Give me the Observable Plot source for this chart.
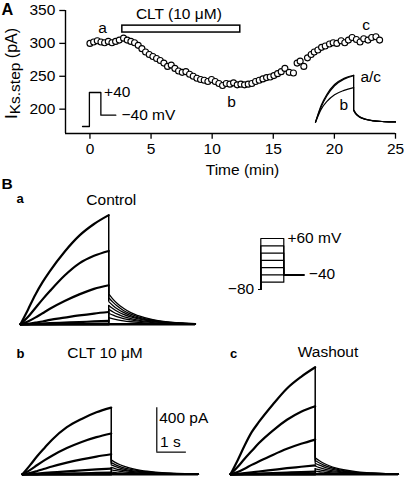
<!DOCTYPE html>
<html><head><meta charset="utf-8">
<script src="https://cdn.jsdelivr.net/npm/d3@7"></script>
<script src="https://cdn.jsdelivr.net/npm/@observablehq/plot@0.6"></script>
<style>
body{margin:0;background:#fff;}
#fig{position:relative;width:406px;height:480px;overflow:hidden;background:#fff;font-family:"Liberation Sans",Arial,sans-serif;}
#fig svg{position:absolute;}
</style></head><body><div id="fig"></div>
<script>
// ---------- Panel A data ----------
const timeMin = [0,0.3,0.6,0.9,1.2,1.5,1.8,2.1,2.4,2.75,3.05,3.35,3.65,3.95,4.25,4.55,4.85,5.15,5.45,5.75,6.05,6.35,6.65,6.95,7.25,7.55,7.85,8.15,8.45,8.75,9.05,9.35,9.65,9.95,10.25,10.55,10.85,11.15,11.45,11.75,12.05,12.35,12.65,12.95,13.25,13.55,13.85,14.15,14.45,14.75,15.05,15.35,15.65,15.95,16.3,16.65,16.95,17.2,17.5,17.8,18.1,18.35,18.65,18.95,19.25,19.6,19.9,20.2,20.55,20.85,21.15,21.45,21.8,22.1,22.4,22.75,23.05,23.4,23.7];
const iksStep = [300,302,304,302,301,303,301,303,305,308,305,303,301,297,292,287,283,280,277,274,270,265,267,262,258,256,257,253,250,247,245,244,242,245,242,239,236,239,238,240,237,238,237,238,239,242,244,246,248,249,251,254,257,262,256,255,270,273,265,278,283,287,290,294,296,299,301,300,304,301,305,309,306,302,307,305,309,310,305];
const timeTicks = [0,5,10,15,20,25];
const currentTicks = [200,250,300,350];
const timeDomain = [-2,25];
const currentDomain = [163,350];
const cltPeriod = {start: 2.65, end: 12.3, label: "CLT (10 μM)"};
const pointLabels = [
  {t: 1.03, v: 322.6, text: "a"},
  {t: 11.58, v: 210.6, text: "b"},
  {t: 22.6, v: 327.2, text: "c"}
];
// protocol inset (A)
const protoA_t = [-0.6, 0, 0, 1, 1, 2.3];
const protoA_mV = [-80, -80, 40, 40, -40, -40];
// inset current traces (A)
const insetStepT = [0, 0.15, 0.3, 0.5, 0.75, 1.0];
const insetTailT = [1.0, 1.05, 1.15, 1.3, 1.5, 1.8, 2.1];
const insetStep = {a: [0,110,182,245,285,305], b: [0,85,135,178,207,225], c: [0,100,172,237,280,302]};
const insetTail = {a: [80,58,36,20,10,4,2], b: [76,55,34,19,9,4,2], c: [82,60,37,21,10,4,2]};

// ---------- Panel B data ----------
const stepMV = [60,40,20,0,-20,-40,-60];
const holdMV = -80, tailMV = -40;
const stepT = [0,0.25,0.5,0.75,1,1.5,2,2.5,3];
const tailT = [3,3.15,3.3,3.5,3.75,4,4.5,5,5.5,5.95];
const controlStep = [
  [0,130,265,380,480,655,800,905,985],
  [0,65,145,225,300,440,550,618,662],
  [0,25,60,100,140,210,270,320,352],
  [0,5,15,25,40,60,80,97,111],
  [0,2,4,7,10,15,20,26,30],
  [0,0,1,1,2,3,4,5,6],
  [0,-2,-2,-2,-2,-2,-2,-2,-2]
];
const controlTail = [
  [275,225,185,145,105,78,42,22,12,6],
  [240,198,162,125,92,68,37,20,10,5],
  [205,168,138,107,79,58,32,17,9,4],
  [170,140,115,89,66,48,26,14,7,3],
  [135,111,91,70,52,38,21,11,6,3],
  [100,82,67,52,39,28,15,8,4,2],
  [60,49,40,31,23,17,9,5,3,1]
];
const cltStep = [
  [0,80,165,240,312,425,500,560,602],
  [0,38,84,128,168,237,292,335,368],
  [0,12,30,50,70,105,135,160,181],
  [0,3,7,12,17,27,36,44,51],
  [0,1,2,3,4,7,9,12,15],
  [0,0,0,1,1,2,2,3,3],
  [0,-1,-1,-1,-1,-1,-1,-1,-1]
];
const cltTail = [
  [130,105,86,66,48,35,19,10,5,3],
  [105,85,70,54,39,28,15,8,4,2],
  [85,69,56,43,31,23,12,7,3,2],
  [62,50,41,32,23,17,9,5,2,1],
  [40,33,27,20,15,11,6,3,2,1],
  [20,16,13,10,7,5,3,2,1,0],
  [5,4,3,3,2,1,1,0,0,0]
];
const washStep = [
  [0,125,260,380,470,630,775,880,966],
  [0,65,140,210,280,395,492,565,614],
  [0,20,50,85,115,175,230,275,313],
  [0,4,10,17,25,40,55,68,81],
  [0,1,3,5,7,11,16,20,25],
  [0,0,1,1,2,3,4,5,6],
  [0,-1,-1,-1,-1,-1,-1,-1,-1]
];
const washTail = [
  [150,122,100,77,56,41,22,12,6,3],
  [125,102,83,64,47,34,18,10,5,3],
  [100,82,67,51,37,27,15,8,4,2],
  [75,61,50,38,28,20,11,6,3,2],
  [50,41,33,26,19,14,7,4,2,1],
  [28,23,19,14,10,8,4,2,1,1],
  [8,7,5,4,3,2,1,1,0,0]
];
const scaleBar = {pA: 400, s: 1, t0: 4.54, i0: 200};

// ---------- rendering ----------
const FONT = '"Liberation Sans", Arial, sans-serif';
const fig = document.getElementById("fig");
const baseStyle = {overflow: "visible", background: "transparent", fontFamily: FONT, fontSize: "15.5px", color: "black"};

function overlay(xd, yd, px, py, marks) {
  const w = px[1] - px[0], h = py[0] - py[1];
  const svg = Plot.plot({
    width: w, height: h, margin: 0,
    x: {domain: xd, axis: null}, y: {domain: yd, axis: null},
    style: {...baseStyle, position: "absolute", left: px[0] + "px", top: py[1] + "px"},
    marks
  });
  fig.appendChild(svg);
}

// Panel A main plot
const scatter = timeMin.map((t, i) => ({t, v: iksStep[i]}));
const plotA = Plot.plot({
  width: 406, height: 180,
  marginTop: 10, marginBottom: 47, marginLeft: 65, marginRight: 11,
  x: {domain: timeDomain, axis: null},
  y: {domain: currentDomain, axis: null},
  style: {...baseStyle, position: "absolute", left: "0px", top: "0px"},
  marks: [
    Plot.axisX({ticks: timeTicks, tickSize: 5.7, tickPadding: 4, strokeWidth: 1.3, label: null, fontSize: 15.5}),
    Plot.axisY({ticks: currentTicks, tickSize: 5.7, tickPadding: 4.5, strokeWidth: 1.3, label: null, fontSize: 15.5}),
    Plot.ruleX([timeDomain[0]], {y1: currentDomain[0], y2: currentDomain[1], strokeWidth: 1.4}),
    Plot.ruleY([currentDomain[0]], {x1: timeDomain[0], x2: timeDomain[1], strokeWidth: 1.4}),
    Plot.rect([cltPeriod], {x1: "start", x2: "end", y1: 316.5, y2: 327, fill: "white", stroke: "black", strokeWidth: 1.5}),
    Plot.text([cltPeriod], {x: d => (d.start + d.end) / 2 - 0.2, y: 344.9, text: "label", fontSize: 15.5}),
    Plot.dot(scatter, {x: "t", y: "v", r: 3, fill: "white", stroke: "black", strokeWidth: 1.1}),
    Plot.text(pointLabels, {x: "t", y: "v", text: "text", fontSize: 15.5})
  ]
});
fig.appendChild(plotA);

// Protocol inset A
const protoA = protoA_t.map((t, i) => ({t, mV: protoA_mV[i]}));
overlay([-0.6, 2.3], [-80, 40], [81.7, 115], [125.7, 91.7], [
  Plot.line(protoA, {x: "t", y: "mV", strokeWidth: 1.3}),
  Plot.text(["+40"], {x: 1.28, y: 40, textAnchor: "start", fontSize: 15.5}),
  Plot.text(["\u221240 mV"], {x: 2.8, y: -40, textAnchor: "start", fontSize: 15.5})
]);

// Inset traces A
const insetRows = [];
for (const k of ["a", "c", "b"]) {
  insetStep[k].forEach((v, j) => insetRows.push({t: insetStepT[j], pA: v, z: k + "s"}));
  insetTail[k].forEach((v, j) => insetRows.push({t: insetTailT[j], pA: v, z: k + "t"}));
}
const insetDrops = ["a", "b", "c"].map(k => ({t: 1.0, y1: insetTail[k][0], y2: insetStep[k][insetStep[k].length - 1]}));
overlay([0, 2.1], [0, 310], [315, 395], [122, 74.3], [
  Plot.line(insetRows, {x: "t", y: "pA", z: "z", curve: "monotone-x", strokeWidth: 1.2}),
  Plot.ruleX(insetDrops, {x: "t", y1: "y1", y2: "y2", strokeWidth: 1.2}),
  Plot.text(["a/c"], {x: 1.18, y: 294, textAnchor: "start", fontSize: 15.5}),
  Plot.text(["b"], {x: 0.74, y: 110, fontSize: 15.5})
]);

// Panel B traces
function traceMarks(stepArr, tailArr) {
  const sRows = [], tRows = [];
  stepArr.forEach((vals, i) => vals.forEach((v, j) => sRows.push({t: stepT[j], pA: v, z: i})));
  tailArr.forEach((vals, i) => vals.forEach((v, j) => tRows.push({t: tailT[j], pA: v, z: i})));
  const drops = stepArr.map((vals, i) => ({t: stepT[stepT.length - 1], y1: tailArr[i][0], y2: vals[vals.length - 1]}));
  return [
    Plot.line(tRows, {x: "t", y: "pA", z: "z", curve: "monotone-x", strokeWidth: 1.3}),
    Plot.line(sRows, {x: "t", y: "pA", z: "z", curve: "monotone-x", strokeWidth: d => 2.2}),
    Plot.ruleY([0], {x1: stepT[0], x2: tailT[tailT.length - 1], strokeWidth: 2.4}),
    Plot.ruleX(drops, {x: "t", y1: "y1", y2: "y2", strokeWidth: 1.5})
  ];
}
overlay([0, 5.95], [0, 1000], [20, 195], [323.3, 212.5], traceMarks(controlStep, controlTail));
overlay([0, 5.95], [0, 1000], [21.7, 197.7], [474, 363.2], [
  ...traceMarks(cltStep, cltTail),
  Plot.ruleX([scaleBar], {x: "t0", y1: "i0", y2: d => d.i0 + d.pA, strokeWidth: 1.2}),
  Plot.ruleY([scaleBar], {y: "i0", x1: "t0", x2: d => d.t0 + d.s, strokeWidth: 1.2}),
  Plot.text([scaleBar], {x: d => d.t0 + 0.08, y: 505, text: d => d.pA + " pA", textAnchor: "start", fontSize: 15.5}),
  Plot.text([scaleBar], {x: d => d.t0 + 0.11, y: 291, text: d => d.s + " s", textAnchor: "start", fontSize: 15.5})
]);
overlay([0, 5.95], [0, 1000], [230, 398], [474, 363.2], traceMarks(washStep, washTail));

// Protocol B
const protoRows = [];
stepMV.forEach((v, i) => {
  [[-0.1, holdMV], [0, holdMV], [0, v], [1, v], [1, tailMV], [1.87, tailMV]].forEach(([t, mV]) => protoRows.push({t, mV, z: i}));
});
overlay([-0.1, 1.87], [-80, 60], [257.7, 303], [289, 238], [
  Plot.line(protoRows, {x: "t", y: "mV", z: "z", strokeWidth: 1.2}),
  Plot.text(["+" + d3.max(stepMV) + " mV"], {x: 1.16, y: 60, textAnchor: "start", fontSize: 15.5}),
  Plot.text(["\u2212" + Math.abs(tailMV)], {x: 2.09, y: -38, textAnchor: "start", fontSize: 15.5}),
  Plot.text(["\u2212" + Math.abs(holdMV)], {x: -0.29, y: -79, textAnchor: "end", fontSize: 15.5})
]);

// Text overlay (panel letters, titles, axis labels)
const svgT = d3.select(fig).append("svg")
  .attr("width", 406).attr("height", 480)
  .style("left", "0px").style("top", "0px")
  .attr("font-family", FONT).attr("font-size", 15.5);
function txt(x, y, s, opts = {}) {
  const t = svgT.append("text").attr("x", x).attr("y", y).text(s);
  if (opts.anchor) t.attr("text-anchor", opts.anchor);
  if (opts.bold) t.attr("font-weight", "bold");
  if (opts.size) t.attr("font-size", opts.size);
  return t;
}
txt(1.5, 15, "A", {bold: true, size: 16.3});
txt(1.5, 189.3, "B", {bold: true, size: 15.5});
txt(16.5, 203.3, "a", {bold: true, size: 13});
txt(16.5, 358, "b", {bold: true, size: 13});
txt(230, 358, "c", {bold: true, size: 13});
txt(111.3, 205, "Control", {anchor: "middle"});
txt(105, 358.3, "CLT 10 μM", {anchor: "middle"});
txt(328, 356.7, "Washout", {anchor: "middle"});
txt(242.5, 174.5, "Time (min)", {anchor: "middle"});
const yl = svgT.append("text").attr("transform", "translate(17,73.5) rotate(-90)").attr("text-anchor", "middle").attr("font-size", 16);
yl.append("tspan").text("I").attr("font-size", 17);
yl.append("tspan").text("Ks.step").attr("dy", 2.5).attr("font-size", 15.5);
yl.append("tspan").text(" (pA)").attr("dy", -2.5);
</script></body></html>
